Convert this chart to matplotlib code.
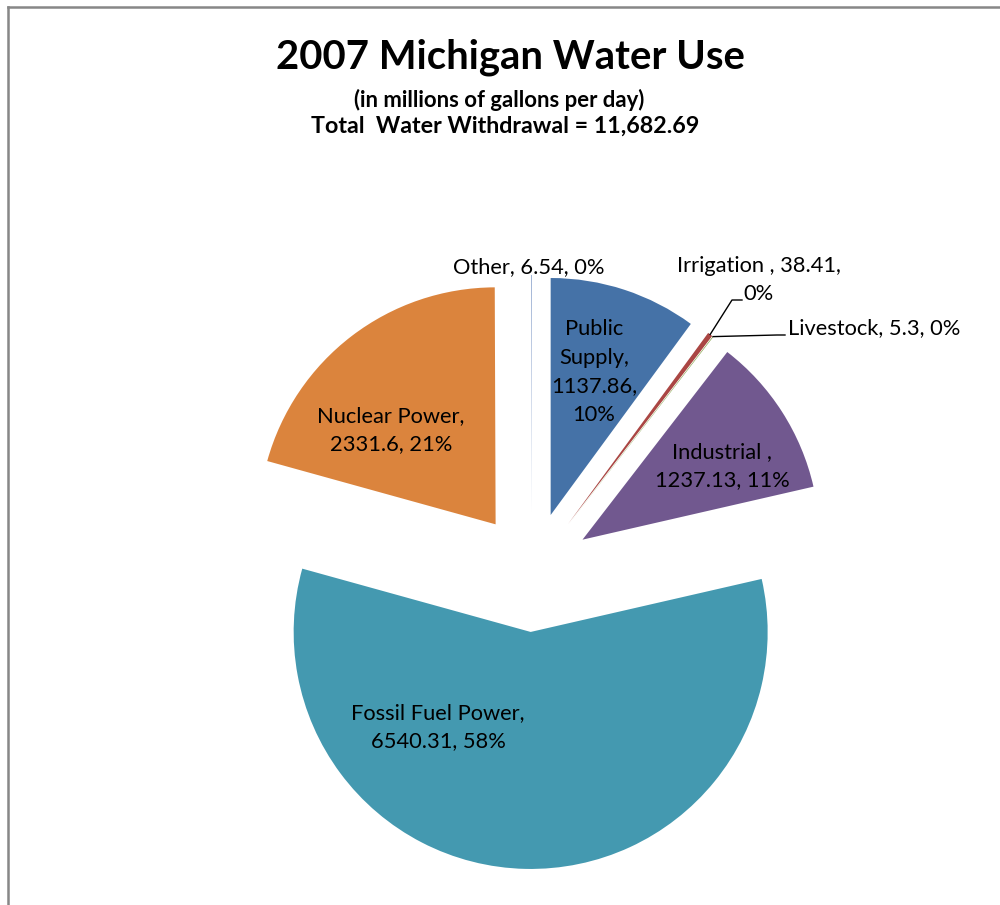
import matplotlib
matplotlib.use("Agg")
import matplotlib.pyplot as plt
from matplotlib.lines import Line2D
import numpy as np

# ---------------- data ----------------
categories = ["Public Supply", "Irrigation ", "Livestock", "Industrial ",
              "Fossil Fuel Power", "Nuclear Power", "Other"]
values = [1137.86, 38.41, 5.3, 1237.13, 6540.31, 2331.6, 6.54]
colors = ["#4572A7", "#AA4643", "#89A54E", "#71588F", "#4499B0", "#DB843D", "#93A9CF"]
title = "2007 Michigan Water Use"
subtitle = "(in millions of gallons per day)"
total_label = "Total  Water Withdrawal = 11,682.69"

# ---------------- layout (pixels) ----------------
W, H = 1000, 905
CX, CY, R = 532, 572, 237

plt.rcParams['font.family'] = ['Lato', 'DejaVu Sans']

fig = plt.figure(figsize=(W / 100, H / 100), dpi=100)
ax = fig.add_axes([0, 0, 1, 1])

wedges, _ = ax.pie(values, colors=colors, startangle=90, counterclock=False,
                   explode=[0.253] * len(values), radius=1,
                   wedgeprops=dict(linewidth=0))
ax.set_aspect('auto')
ax.set_xlim(-CX / R, (W - CX) / R)
ax.set_ylim(-(H - CY) / R, CY / R)
ax.axis('off')


def P(x, y):
    return ((x - CX) / R, (CY - y) / R)


total = sum(values)
pct = [int(round(v / total * 100)) for v in values]
fmt = [f"{v:g}" for v in values]

labels = {
    0: (f"Public\nSupply,\n{fmt[0]},\n{pct[0]}%", (594, 372), 'center'),
    1: (f"{categories[1]}, {fmt[1]},\n{pct[1]}%", (759, 280), 'center'),
    2: (f"{categories[2]}, {fmt[2]}, {pct[2]}%", (788, 328), 'left'),
    3: (f"{categories[3]},\n{fmt[3]}, {pct[3]}%", (722, 466), 'center'),
    4: (f"{categories[4]},\n{fmt[4]}, {pct[4]}%", (438, 727), 'center'),
    5: (f"{categories[5]},\n{fmt[5]}, {pct[5]}%", (391, 430), 'center'),
    6: (f"{categories[6]}, {fmt[6]}, {pct[6]}%", (529, 267), 'center'),
}

fig.canvas.draw()
rend = fig.canvas.get_renderer()

# label font size fitted to the "Other" label width
probe = ax.text(0, 0, labels[6][0], fontsize=10)
bw = probe.get_window_extent(renderer=rend).width
lab_fs = 10 * 152 / bw
probe.remove()

for i, (txt, (x, y), ha) in labels.items():
    ax.text(*P(x, y), txt, ha=ha, va='center', ma='center', fontsize=lab_fs,
            color='black', linespacing=1.55)

# titles
def fitted(txt, x, y, width, **kw):
    t = ax.text(*P(x, y), txt, ha='center', va='center', fontsize=10, **kw)
    w = t.get_window_extent(renderer=rend).width
    t.set_fontsize(10 * width / w)
    return t

fitted(title, 510, 57, 470, fontweight='bold')
fitted(subtitle, 499, 100, 292, fontweight='bold')
fitted(total_label, 505, 126, 389, fontweight='bold')

# leader lines for the thin slices
def outer_mid(w):
    th = np.deg2rad((w.theta1 + w.theta2) / 2)
    cx, cy = w.center
    return cx + w.r * np.cos(th), cy + w.r * np.sin(th)

for idx, knee, end in [(1, (732, 300), (742, 300)), (2, (777, 335), (785, 335))]:
    sx, sy = outer_mid(wedges[idx])
    kx, ky = P(*knee)
    ex, ey = P(*end)
    ax.add_line(Line2D([sx, kx, ex], [sy, ky, ey], color='black', lw=1.0))

# chart frame (left and top edges visible)
fig.add_artist(Line2D([8 / W, 8 / W], [0, 1 - 7 / H], transform=fig.transFigure,
                      color='#878787', lw=1.8))
fig.add_artist(Line2D([8 / W, 1], [1 - 7 / H, 1 - 7 / H], transform=fig.transFigure,
                      color='#878787', lw=1.8))

fig.savefig("out.png", dpi=100)
